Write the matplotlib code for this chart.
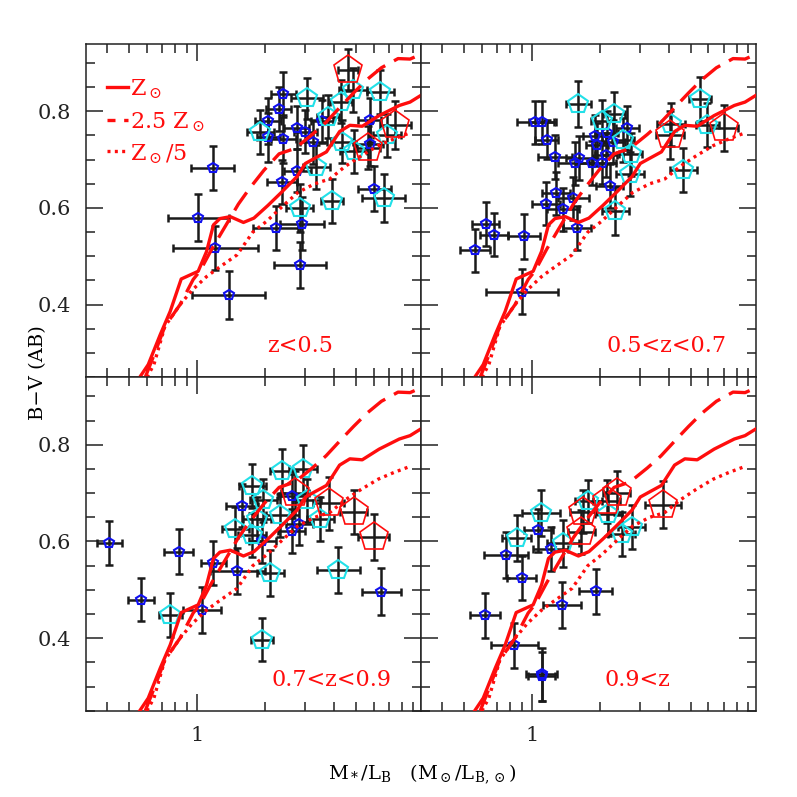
import numpy as np
import matplotlib.pyplot as plt

plt.rcParams['font.family'] = 'DejaVu Serif'
plt.rcParams['mathtext.fontset'] = 'dejavuserif'

# model tracks (M/L_B, B-V)
solid_x = [0.558, 0.608, 0.687, 0.76, 0.85, 1.01, 1.10, 1.18, 1.26, 1.40, 1.60, 1.78, 2.05, 2.35,
           2.76, 3.0, 3.28, 3.72, 4.25, 4.72, 5.35, 6.35, 7.8, 8.7, 9.72]
solid_y = [0.25, 0.276, 0.338, 0.386, 0.453, 0.469, 0.51, 0.565, 0.578, 0.582, 0.570, 0.579, 0.605, 0.632,
           0.665, 0.692, 0.702, 0.716, 0.758, 0.771, 0.769, 0.791, 0.812, 0.819, 0.833]
dash_x = [0.59, 0.65, 0.72, 0.84, 0.96, 1.03, 1.16, 1.33, 1.52, 1.70, 1.97, 2.30, 2.70, 3.22,
          3.70, 4.30, 4.90, 5.60, 6.50, 7.70, 8.70, 9.72]
dash_y = [0.25, 0.30, 0.355, 0.40, 0.452, 0.47, 0.515, 0.562, 0.608, 0.64, 0.678, 0.712, 0.723, 0.752,
          0.777, 0.81, 0.838, 0.865, 0.89, 0.909, 0.908, 0.918]
dot_x = [0.60, 0.644, 0.72, 0.84, 0.95, 1.10, 1.25, 1.50, 1.76, 2.02, 2.40, 2.78, 3.30, 3.85,
         4.50, 5.30, 6.30, 7.40, 8.55]
dot_y = [0.25, 0.276, 0.355, 0.40, 0.43, 0.458, 0.477, 0.503, 0.55, 0.572, 0.605, 0.632, 0.65, 0.66,
         0.686, 0.708, 0.729, 0.743, 0.754]

# points: (M/L_B, B-V, error of M/L in dex, error of B-V)
blue_1 = [(1.17, 0.683, 0.094, 0.046), (1.01, 0.580, 0.135, 0.049), (1.20, 0.517, 0.188, 0.045),
          (1.375, 0.420, 0.163, 0.050), (2.40, 0.835, 0.055, 0.046), (2.29, 0.805, 0.055, 0.045),
          (2.06, 0.780, 0.058, 0.047), (2.06, 0.746, 0.052, 0.050), (2.40, 0.743, 0.055, 0.050),
          (2.75, 0.766, 0.055, 0.045), (3.00, 0.758, 0.050, 0.045), (3.26, 0.736, 0.060, 0.045),
          (3.55, 0.779, 0.050, 0.045), (2.77, 0.677, 0.060, 0.045), (2.37, 0.654, 0.065, 0.045),
          (2.22, 0.559, 0.100, 0.046), (2.90, 0.567, 0.096, 0.055), (2.84, 0.482, 0.114, 0.048),
          (5.77, 0.782, 0.050, 0.045), (5.77, 0.732, 0.060, 0.045), (6.06, 0.640, 0.074, 0.046)]
cyan_1 = [(3.05, 0.827, 0.07, 0.042), (4.87, 0.844, 0.06, 0.045), (6.43, 0.840, 0.06, 0.045),
          (4.31, 0.820, 0.05, 0.045), (3.78, 0.789, 0.05, 0.045), (1.90, 0.757, 0.06, 0.045),
          (3.35, 0.685, 0.06, 0.045), (3.93, 0.614, 0.05, 0.045), (2.83, 0.600, 0.06, 0.050),
          (6.65, 0.621, 0.096, 0.050), (4.90, 0.717, 0.06, 0.045), (6.88, 0.750, 0.06, 0.045),
          (4.36, 0.737, 0.05, 0.045)]
red_1 = [(4.63, 0.885, 0.044, 0.043), (7.50, 0.772, 0.07, 0.05), (5.69, 0.725, 0.05, 0.045)]

blue_2 = [(0.559, 0.512, 0.068, 0.045), (0.623, 0.567, 0.058, 0.045), (0.678, 0.545, 0.061, 0.044),
          (0.923, 0.541, 0.070, 0.046), (0.900, 0.427, 0.160, 0.047), (1.03, 0.777, 0.082, 0.045),
          (1.11, 0.777, 0.060, 0.045), (1.16, 0.741, 0.050, 0.040), (1.26, 0.705, 0.075, 0.045),
          (1.27, 0.630, 0.062, 0.045), (1.15, 0.609, 0.060, 0.045), (1.37, 0.597, 0.070, 0.045),
          (1.52, 0.620, 0.070, 0.045), (1.58, 0.558, 0.062, 0.046), (1.54, 0.692, 0.075, 0.045),
          (1.615, 0.703, 0.060, 0.045), (1.83, 0.693, 0.065, 0.045), (2.04, 0.694, 0.060, 0.045),
          (2.12, 0.710, 0.050, 0.045), (2.20, 0.645, 0.060, 0.045), (2.63, 0.765, 0.050, 0.045),
          (1.89, 0.748, 0.050, 0.045), (1.93, 0.731, 0.050, 0.045), (2.28, 0.737, 0.050, 0.045),
          (2.13, 0.755, 0.050, 0.045)]
cyan_2 = [(1.60, 0.815, 0.057, 0.047), (2.30, 0.795, 0.05, 0.045), (2.03, 0.779, 0.05, 0.045),
          (2.52, 0.741, 0.05, 0.045), (2.72, 0.711, 0.05, 0.045), (2.70, 0.670, 0.06, 0.045),
          (2.33, 0.594, 0.06, 0.050), (4.10, 0.773, 0.06, 0.045), (5.51, 0.825, 0.05, 0.045),
          (5.93, 0.772, 0.05, 0.045), (4.65, 0.679, 0.06, 0.045)]
red_2 = [(4.06, 0.751, 0.06, 0.050), (7.03, 0.765, 0.06, 0.048)]

blue_3 = [(0.41, 0.597, 0.057, 0.046), (0.564, 0.480, 0.057, 0.045), (0.827, 0.579, 0.065, 0.047),
          (1.055, 0.458, 0.084, 0.047), (1.18, 0.556, 0.056, 0.045), (1.506, 0.539, 0.121, 0.047),
          (6.49, 0.496, 0.086, 0.049), (1.58, 0.674, 0.070, 0.045), (1.94, 0.601, 0.060, 0.045),
          (2.61, 0.694, 0.060, 0.045), (2.61, 0.622, 0.060, 0.045), (2.82, 0.637, 0.060, 0.045)]
cyan_3 = [(0.76, 0.448, 0.05, 0.045), (1.93, 0.397, 0.05, 0.045), (2.10, 0.535, 0.06, 0.048),
          (4.20, 0.541, 0.096, 0.048), (2.36, 0.746, 0.05, 0.045), (2.93, 0.749, 0.06, 0.050),
          (1.75, 0.715, 0.06, 0.045), (1.96, 0.685, 0.06, 0.045), (1.47, 0.626, 0.06, 0.045),
          (1.835, 0.647, 0.06, 0.045), (2.32, 0.654, 0.06, 0.045), (3.05, 0.685, 0.06, 0.045),
          (3.49, 0.647, 0.06, 0.045), (1.744, 0.613, 0.06, 0.045)]
red_3 = [(4.90, 0.661, 0.06, 0.046), (6.00, 0.609, 0.07, 0.048), (3.80, 0.679, 0.07, 0.055),
         (2.70, 0.700, 0.06, 0.045)]

blue_4 = [(0.619, 0.447, 0.068, 0.046), (0.834, 0.385, 0.105, 0.047), (1.10, 0.325, 0.070, 0.055),
          (1.10, 0.321, 0.060, 0.050), (0.766, 0.572, 0.098, 0.047), (0.899, 0.525, 0.063, 0.046),
          (1.064, 0.623, 0.065, 0.045), (1.207, 0.584, 0.078, 0.045), (1.358, 0.469, 0.083, 0.048),
          (1.907, 0.497, 0.073, 0.047)]
cyan_4 = [(1.09, 0.659, 0.084, 0.047), (0.854, 0.607, 0.065, 0.047), (1.37, 0.596, 0.07, 0.049),
          (1.77, 0.683, 0.06, 0.045), (2.17, 0.657, 0.06, 0.045), (2.48, 0.616, 0.06, 0.045),
          (2.75, 0.630, 0.06, 0.045)]
red_4 = [(3.79, 0.676, 0.08, 0.049), (1.68, 0.662, 0.06, 0.045), (1.65, 0.620, 0.06, 0.045),
         (2.13, 0.683, 0.06, 0.045), (2.36, 0.700, 0.06, 0.045)]

panel_labels = ['z<0.5', '0.5<z<0.7', '0.7<z<0.9', '0.9<z']
label_x = [0.64, 0.734, 0.734, 0.645]
minor_x = [0.4, 0.5, 0.6, 0.7, 0.8, 0.9, 2, 3, 4, 5, 6, 7, 8, 9]

RED = '#ff0d0d'


def points(ax, pts, color, ms, mew):
    x, y, dex, ye = np.array(pts).T
    xlo = x - x / 10**dex
    xhi = x * 10**dex - x
    ax.errorbar(x, y, xerr=[xlo, xhi], yerr=ye, fmt='none', ecolor='#1a1a1a',
                elinewidth=1.8, capsize=3.2, capthick=1.8, zorder=2)
    ax.plot(x, y, 'p', mfc='none', mec=color, ms=ms, mew=mew, zorder=3)


fig = plt.figure(figsize=(7.97, 7.97), dpi=100)
w, h = 0.4203, 0.4185
x0, y0 = 0.1079, 0.1083
corners = [(x0, y0 + h), (x0 + w, y0 + h), (x0, y0), (x0 + w, y0)]
sets = [(blue_1, cyan_1, red_1), (blue_2, cyan_2, red_2),
        (blue_3, cyan_3, red_3), (blue_4, cyan_4, red_4)]

for k in range(4):
    ax = fig.add_axes([corners[k][0], corners[k][1], w, h])
    blue, cyan, red = sets[k]

    points(ax, blue, '#1010ee', 7.5, 1.5)
    points(ax, cyan, '#22e0e8', 15, 1.5)
    points(ax, red, RED, 21, 1.2)

    ax.plot(solid_x, solid_y, '-', color=RED, lw=2.4, zorder=5)
    ax.plot(dash_x, dash_y, color=RED, lw=2.4, ls=(0, (6.5, 3)), zorder=5)
    ax.plot(dot_x, dot_y, color=RED, lw=2.4, ls=(0, (0.9, 1.3)), zorder=5)

    ax.set_xscale('log')
    ax.set_xlim(0.323, 9.72)
    ax.set_ylim(0.25, 0.94)
    ax.set_xticks([1])
    ax.set_xticklabels(['1'])
    ax.set_xticks(minor_x, minor=True)
    ax.set_xticklabels([], minor=True)
    ax.set_yticks([0.4, 0.6, 0.8])
    ax.set_yticklabels(['0.4', '0.6', '0.8'])
    ax.set_yticks(np.arange(0.25, 0.94, 0.05), minor=True)
    ax.tick_params(which='both', direction='in', top=True, right=True, width=1.1,
                   labelsize=15, pad=11, colors='#222222')
    ax.tick_params(which='major', length=12)
    ax.tick_params(which='minor', length=6.5)
    ax.tick_params(labelbottom=(k >= 2), labelleft=(k % 2 == 0))
    for s in ax.spines.values():
        s.set_linewidth(1.1)
        s.set_color('#222222')

    ax.text(label_x[k], 0.092, panel_labels[k], transform=ax.transAxes, color=RED,
            fontsize=16, ha='center', va='center')

    if k == 0:
        # legend drawn by hand
        ax.plot([0.063, 0.126], [0.871, 0.871], '-', color=RED, lw=2.4, transform=ax.transAxes)
        ax.plot([0.063, 0.126], [0.772, 0.772], color=RED, lw=2.4, ls=(0, (2.4, 2.6)),
                transform=ax.transAxes)
        ax.plot([0.063, 0.126], [0.677, 0.677], color=RED, lw=2.4, ls=(0, (0.9, 1.3)),
                transform=ax.transAxes)
        ax.text(0.132, 0.862, r'Z$_\odot$', transform=ax.transAxes, color=RED, fontsize=16,
                va='center')
        ax.text(0.132, 0.763, r'2.5 Z$_\odot$', transform=ax.transAxes, color=RED, fontsize=16,
                va='center')
        ax.text(0.132, 0.668, r'Z$_\odot$/5', transform=ax.transAxes, color=RED, fontsize=16,
                va='center')

fig.text(0.048, 0.533, 'B\u2212V (AB)', rotation=90, ha='center', va='center', fontsize=14)
fig.text(0.53, 0.028, r'M$_*$/L$_{\rm B}$   (M$_\odot$/L$_{\rm B,\odot}$)', ha='center',
         va='center', fontsize=14)

fig.savefig('out.png', dpi=100)
